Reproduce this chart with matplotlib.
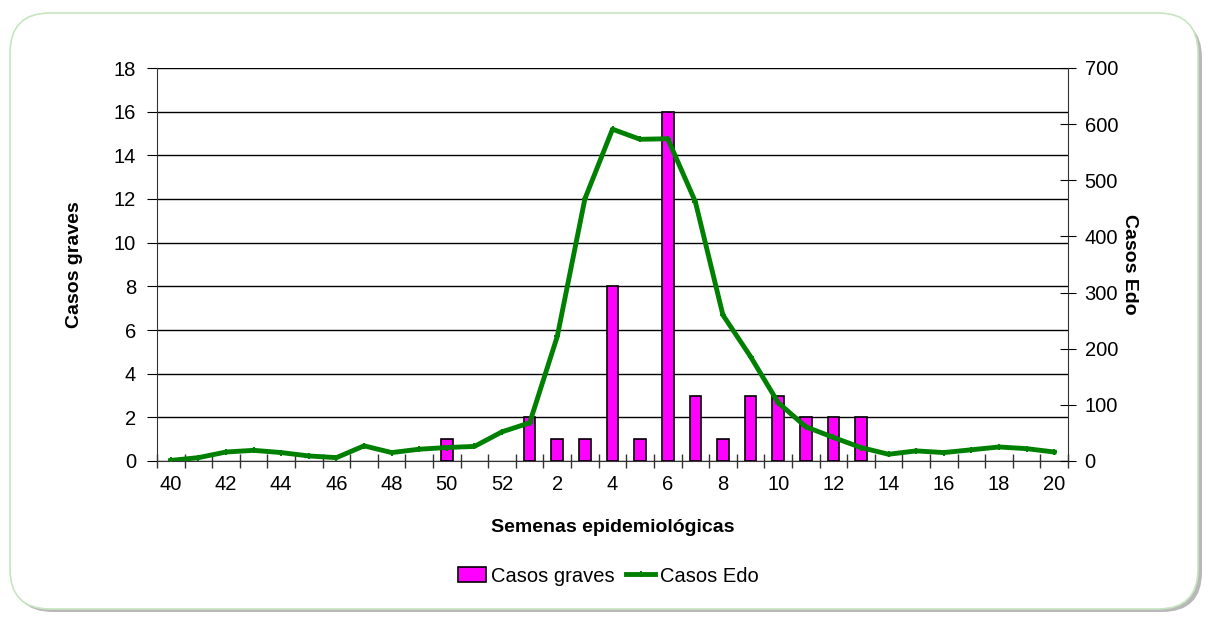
import matplotlib
matplotlib.use("Agg")
import matplotlib.pyplot as plt
from matplotlib.patches import FancyBboxPatch
from matplotlib.lines import Line2D
from matplotlib.patches import Patch
import numpy as np

plt.rcParams['font.family'] = ['Liberation Sans', 'DejaVu Sans']

weeks = [40, 41, 42, 43, 44, 45, 46, 47, 48, 49, 50, 51, 52,
         1, 2, 3, 4, 5, 6, 7, 8, 9, 10, 11, 12, 13, 14, 15, 16, 17, 18, 19, 20]
casos_graves = [0, 0, 0, 0, 0, 0, 0, 0, 0, 0, 1, 0, 0,
                2, 1, 1, 8, 1, 16, 3, 1, 3, 3, 2, 2, 2, 0, 0, 0, 0, 0, 0, 0]
casos_edo = [1, 6, 16, 19, 15, 9, 6, 27, 15, 21, 24, 26, 52,
             68, 222, 467, 591, 573, 574, 462, 260, 186, 104, 61, 42, 24,
             12, 18, 15, 20, 25, 22, 16]
tick_labels = [str(w) if i % 2 == 0 else "" for i, w in enumerate(weeks)]

W, H = 1208, 619
fig = plt.figure(figsize=(W / 100, H / 100), dpi=100)

# rounded frame with shadow
shadow = FancyBboxPatch((13, 7), 1189, 594, boxstyle="round,pad=0,rounding_size=40",
                        transform=None, facecolor="#b8b8b8", edgecolor="none", zorder=0)
frame = FancyBboxPatch((10, 10), 1188, 596, boxstyle="round,pad=0,rounding_size=40",
                       transform=None, facecolor="white", edgecolor="#c6e5c0", lw=1.2, zorder=1)
fig.patches.extend([shadow, frame])

ax = fig.add_axes([157 / W, 1 - 461 / H, (1068 - 157) / W, (461 - 68) / H])
ax.set_zorder(2)
ax.patch.set_alpha(0)
x = np.arange(len(weeks))

ax.set_ylim(0, 18)
ax.set_yticks(np.arange(0, 19, 2))
ax.set_xlim(-0.5, len(weeks) - 0.5)
ax.yaxis.grid(True, color="black", lw=1)
ax.set_axisbelow(True)
graves = np.array(casos_graves, dtype=float)
nz = graves > 0
ax.bar(x[nz], graves[nz], width=0.42, color="#ff00ff", edgecolor="black", lw=1.2, zorder=3)

ax.set_xticks(x)
ax.set_xticklabels(tick_labels)
ax.tick_params(axis='x', length=0, pad=10, labelsize=14.5)
ax.set_xticks(np.arange(-0.5, len(weeks), 1), minor=True)
ax.tick_params(axis='x', which='minor', length=10, direction='inout', width=1, color="#333333")
ax.tick_params(axis='y', length=7, direction='out', labelsize=14.5, pad=8)
for s in ['top', 'right']:
    ax.spines[s].set_visible(False)
ax.spines['left'].set_color("#333333")
ax.spines['bottom'].set_color("#333333")

ax2 = ax.twinx()
ax2.set_ylim(0, 700)
ax2.set_yticks(np.arange(0, 701, 100))
ax2.tick_params(axis='y', length=12, direction='inout', labelsize=14.5, pad=6)
for s in ['top', 'left', 'bottom']:
    ax2.spines[s].set_visible(False)
ax2.spines['right'].set_color("#333333")
ax2.plot(x, casos_edo, color="#008000", lw=3.5, marker="+", markersize=5,
         markeredgewidth=1.5, zorder=4)

ax.set_ylabel("Casos graves", fontsize=14, fontweight="bold", labelpad=22)
ax2.set_ylabel("Casos Edo", fontsize=14, fontweight="bold", rotation=270, labelpad=14)
ax.set_xlabel("Semenas epidemiológicas", fontsize=14, fontweight="bold", labelpad=18)

handles = [Patch(facecolor="#ff00ff", edgecolor="black", lw=1.2),
           Line2D([0], [0], color="#008000", lw=3.5, marker="+", markersize=5, markeredgewidth=1.5)]
fig.legend(handles, ["Casos graves", "Casos Edo"], loc="center", bbox_to_anchor=(608 / W, 1 - 576 / H),
           ncol=2, frameon=False, fontsize=14.5, handlelength=1.4, handletextpad=0.25, columnspacing=0.6)

fig.savefig("out.png", dpi=100)
